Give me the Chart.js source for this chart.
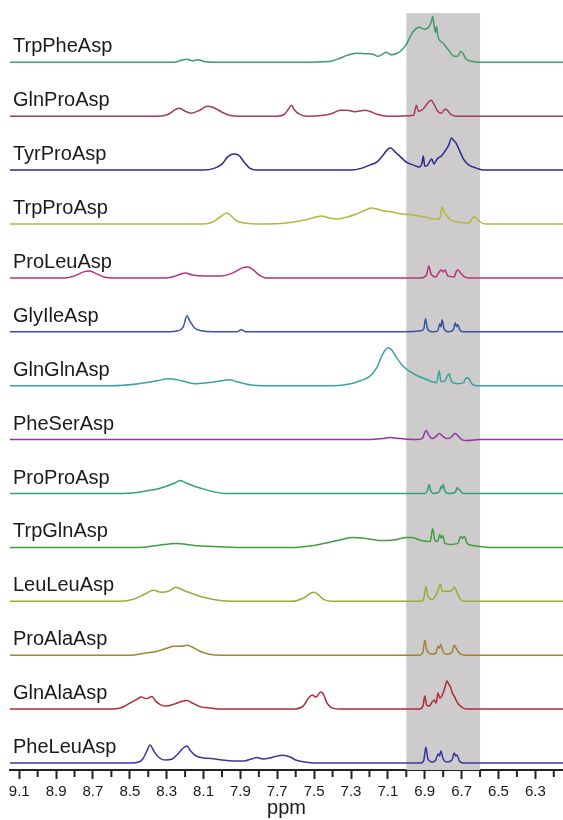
<!DOCTYPE html>
<html>
<head>
<meta charset="utf-8">
<script src="https://cdn.jsdelivr.net/npm/chart.js@4.4.1/dist/chart.umd.min.js"></script>
<style>
  html, body { margin: 0; padding: 0; background: #ffffff; }
  #wrap { width: 563px; height: 820px; }
</style>
</head>
<body>
<div id="wrap"><canvas id="c" width="563" height="820"></canvas></div>
<script>
// ---- Data (ppm, intensity) ----
const seriesNames = ['TrpPheAsp','GlnProAsp','TyrProAsp','TrpProAsp','ProLeuAsp','GlyIleAsp','GlnGlnAsp',
                     'PheSerAsp','ProProAsp','TrpGlnAsp','LeuLeuAsp','ProAlaAsp','GlnAlaAsp','PheLeuAsp'];

const TrpPheAsp = [[9.15,0],[8.6,0],[8.26,0],[8.22,2],[8.19,3],[8.16,1.5],[8.13,2.5],[8.09,0.5],[8.0,0],[7.6,0],[7.45,0.5],[7.41,1],[7.36,4],[7.32,7],[7.27,9],[7.22,8.5],[7.18,8],[7.154,6],[7.13,8],[7.11,10],[7.08,7.5],[7.05,9],[7.035,10.5],[7.0,18],[6.965,30],[6.93,35],[6.9,33],[6.88,35],[6.865,40],[6.857,46],[6.85,38],[6.842,30],[6.836,36],[6.83,27],[6.8,19],[6.77,12],[6.74,6],[6.72,6],[6.705,11],[6.69,8],[6.675,3],[6.64,1],[6.6,0],[6.15,0]];
const GlnProAsp = [[9.15,0],[8.35,0],[8.29,2],[8.25,7],[8.23,8],[8.2,5],[8.17,3],[8.12,6],[8.08,10],[8.05,9],[8.0,4],[7.96,1],[7.9,0],[7.7,0],[7.66,2],[7.64,7],[7.622,11],[7.61,7],[7.58,2],[7.54,0],[7.45,1],[7.4,3],[7.36,6],[7.32,6],[7.28,4.5],[7.225,6],[7.2,5],[7.16,2],[7.1,0],[6.96,1],[6.945,11],[6.935,5],[6.91,7],[6.88,14],[6.865,16],[6.85,12],[6.83,5],[6.81,3],[6.79,7],[6.778,6],[6.76,2],[6.73,0],[6.15,0]];
const TyrProAsp = [[9.15,0],[8.1,0],[8.04,2],[8.0,6],[7.97,13],[7.94,16],[7.91,15],[7.88,8],[7.85,2],[7.8,0],[7.3,0],[7.24,2],[7.2,5],[7.16,8],[7.13,14],[7.1,21],[7.085,22],[7.06,18],[7.03,13],[7.0,8],[6.96,5],[6.93,3],[6.915,7],[6.908,14],[6.9,4],[6.89,4],[6.875,8],[6.862,11],[6.85,6],[6.84,9],[6.828,12],[6.81,14],[6.79,19],[6.77,25],[6.755,32],[6.745,30],[6.73,27],[6.71,19],[6.69,11],[6.66,5],[6.62,2],[6.58,0],[6.15,0]];
const TrpProAsp = [[9.15,0],[8.1,0],[8.05,2],[8.01,7],[7.975,11],[7.95,8],[7.92,3],[7.88,1],[7.8,0],[7.65,1],[7.55,4],[7.49,7],[7.46,8],[7.42,6],[7.37,5],[7.32,7],[7.27,10],[7.22,14],[7.19,16],[7.16,15],[7.12,13],[7.08,12],[7.02,10],[6.96,9],[6.9,7],[6.85,5],[6.82,5],[6.806,17],[6.795,12],[6.78,8],[6.76,4],[6.72,2],[6.66,1],[6.645,5],[6.632,7],[6.62,6],[6.6,2],[6.57,0],[6.15,0]];
const ProLeuAsp = [[9.15,0],[8.85,0],[8.8,2],[8.75,6],[8.72,7],[8.69,5],[8.64,1],[8.58,0],[8.3,0],[8.25,2],[8.2,5],[8.16,3],[8.1,2],[8.0,2],[7.94,5],[7.89,10],[7.86,11],[7.83,8],[7.8,3],[7.76,0],[6.92,0],[6.89,3],[6.878,12],[6.866,4],[6.84,1],[6.822,6],[6.81,8],[6.8,6],[6.79,8],[6.775,2],[6.74,1],[6.728,7],[6.718,8],[6.71,6],[6.7,4],[6.685,1],[6.66,0],[6.15,0]];
const GlyIleAsp = [[9.15,0],[8.3,0],[8.24,1],[8.21,5],[8.19,16],[8.175,11],[8.15,4],[8.11,1],[8.05,0],[7.92,0],[7.895,2],[7.87,0],[7.0,0],[6.92,1],[6.905,3],[6.896,13],[6.885,3],[6.86,0],[6.83,1],[6.818,8],[6.812,5],[6.806,12],[6.795,3],[6.77,0],[6.745,2],[6.734,9],[6.728,5],[6.72,7],[6.71,2],[6.69,0],[6.15,0]];
const GlnGlnAsp = [[9.15,0],[8.6,0],[8.45,2],[8.35,5],[8.29,7],[8.22,5],[8.15,2],[8.08,3],[8.0,5],[7.96,6],[7.92,4],[7.85,1],[7.75,0],[7.4,0],[7.3,2],[7.25,5],[7.2,9],[7.16,18],[7.13,31],[7.1,38],[7.08,36],[7.06,30],[7.02,20],[6.98,14],[6.94,10],[6.9,7],[6.86,4],[6.835,3],[6.822,15],[6.812,4],[6.79,5],[6.777,10],[6.768,12],[6.755,4],[6.72,2],[6.69,3],[6.675,8],[6.66,7],[6.645,2],[6.62,0],[6.15,0]];
const PheSerAsp = [[9.15,0],[7.2,0],[7.13,1],[7.09,2],[7.03,1],[6.95,0],[6.915,1],[6.892,9],[6.88,5],[6.86,1],[6.84,3],[6.822,6],[6.8,3],[6.78,1],[6.76,2],[6.735,6],[6.72,4],[6.7,0],[6.67,-1],[6.6,0],[6.15,0]];
const ProProAsp = [[9.15,0],[8.55,0],[8.46,1],[8.4,3],[8.34,5],[8.29,8],[8.25,11],[8.225,13],[8.2,11],[8.16,8],[8.11,5],[8.05,2],[7.98,0],[6.9,0],[6.885,3],[6.876,9],[6.868,3],[6.85,0],[6.82,2],[6.813,7],[6.807,5],[6.8,9],[6.79,2],[6.77,0],[6.735,1],[6.724,6],[6.718,4],[6.712,4],[6.7,1],[6.68,0],[6.15,0]];
const TrpGlnAsp = [[9.15,0],[8.45,0],[8.35,2],[8.25,4],[8.15,2],[8.05,1],[7.9,0],[7.6,0],[7.5,2],[7.42,5],[7.35,8],[7.29,10],[7.22,9],[7.15,7],[7.1,7],[7.05,8],[7.0,10],[6.97,10],[6.92,7],[6.87,6],[6.857,19],[6.845,7],[6.83,6],[6.818,13],[6.81,9],[6.803,12],[6.79,4],[6.76,3],[6.72,4],[6.705,11],[6.695,9],[6.685,11],[6.67,4],[6.64,2],[6.6,1],[6.55,0],[6.15,0]];
const LeuLeuAsp = [[9.15,0],[8.55,0],[8.48,2],[8.42,7],[8.37,11],[8.33,9],[8.29,10],[8.25,14],[8.21,11],[8.15,7],[8.1,4],[8.02,1],[7.95,0],[7.62,0],[7.56,3],[7.52,8],[7.5,9],[7.48,7],[7.45,2],[7.4,0],[6.92,0],[6.905,3],[6.894,15],[6.883,5],[6.86,2],[6.84,6],[6.828,11],[6.815,17],[6.805,10],[6.785,10],[6.765,10],[6.748,12],[6.737,14],[6.725,9],[6.71,3],[6.69,0],[6.15,0]];
const ProAlaAsp = [[9.15,0],[8.5,0],[8.42,2],[8.35,4],[8.3,7],[8.26,9],[8.22,9],[8.19,10],[8.16,8],[8.12,4],[8.07,1],[8.0,0],[6.93,0],[6.91,3],[6.9,15],[6.888,5],[6.86,1],[6.84,2],[6.828,9],[6.82,7],[6.813,11],[6.8,3],[6.78,1],[6.752,3],[6.74,10],[6.73,7],[6.72,4],[6.705,1],[6.68,0],[6.15,0]];
const GlnAlaAsp = [[9.15,0],[8.62,0],[8.55,1],[8.5,6],[8.46,10],[8.44,12],[8.41,10.5],[8.38,12.5],[8.36,8],[8.33,4],[8.3,3],[8.26,5],[8.22,7.5],[8.19,8.5],[8.16,6],[8.12,2.5],[8.06,1],[8.0,0],[7.62,0],[7.56,3],[7.53,11],[7.51,14],[7.49,12],[7.465,17],[7.45,15],[7.43,6],[7.4,1],[7.36,0],[6.93,0],[6.91,3],[6.9,13],[6.89,4],[6.875,3],[6.86,7],[6.848,9],[6.838,6],[6.828,16],[6.818,11],[6.805,14],[6.79,22],[6.78,28],[6.77,25],[6.76,22],[6.75,16],[6.74,13],[6.725,7],[6.7,2],[6.67,0],[6.15,0]];
const PheLeuAsp = [[9.15,0],[8.5,0],[8.45,1],[8.43,4],[8.41,11],[8.39,18],[8.37,12],[8.345,6],[8.31,3],[8.27,4],[8.24,9],[8.21,15],[8.19,17],[8.17,12],[8.14,7],[8.1,5],[8.06,4.5],[8.0,3],[7.94,2],[7.88,2],[7.84,4],[7.81,5.5],[7.78,4],[7.74,5],[7.7,7],[7.67,7.7],[7.63,6],[7.6,3],[7.55,1],[7.5,0],[6.92,0],[6.905,3],[6.894,16],[6.883,4],[6.86,1],[6.84,3],[6.828,9],[6.82,7],[6.813,12],[6.8,4],[6.78,1],[6.752,3],[6.74,10],[6.732,7],[6.725,8],[6.712,2],[6.69,0],[6.15,0]];

const spectra = [TrpPheAsp, GlnProAsp, TyrProAsp, TrpProAsp, ProLeuAsp, GlyIleAsp, GlnGlnAsp,
                 PheSerAsp, ProProAsp, TrpGlnAsp, LeuLeuAsp, ProAlaAsp, GlnAlaAsp, PheLeuAsp];

const majorTickLabels = ['9.1','8.9','8.7','8.5','8.3','8.1','7.9','7.7','7.5','7.3','7.1','6.9','6.7','6.5','6.3'];
const minorTickValues = [9.0, 8.8, 8.6, 8.4, 8.2, 8.0, 7.8, 7.6, 7.4, 7.2, 7.0, 6.8, 6.6, 6.4, 6.2];
const highlightRange = [7.0, 6.6];
const xRange = [6.15, 9.15];

// ---- Styles / layout ----
const colors = ['#3f9c6c','#a8395e','#2b2b8e','#b6b63c','#b8327a','#3555a3','#38a3a0',
                '#9433a3','#31a07c','#3e9e3e','#9cab34','#a2842f','#b02a38','#38389c'];
const step = 53.9;
const bottomBase = 7;

const datasets = spectra.map((arr, i) => {
  const base = bottomBase + (spectra.length - 1 - i) * step;
  return {
    label: seriesNames[i],
    data: arr.map(p => ({ x: p[0], y: base + p[1] })),
    baseOffset: base,
    borderColor: colors[i],
    borderWidth: 1.5,
    pointRadius: 0,
    fill: false,
    cubicInterpolationMode: 'monotone'
  };
});

const bandPlugin = {
  id: 'band',
  beforeDatasetsDraw(chart) {
    const { ctx, chartArea, scales } = chart;
    const x1 = scales.x.getPixelForValue(highlightRange[0]);
    const x2 = scales.x.getPixelForValue(highlightRange[1]);
    ctx.save();
    ctx.fillStyle = '#cdcbcc';
    ctx.fillRect(Math.min(x1, x2), chartArea.top, Math.abs(x2 - x1), chartArea.bottom - chartArea.top);
    ctx.restore();
  }
};

const labelPlugin = {
  id: 'labels',
  afterDatasetsDraw(chart) {
    const { ctx, scales } = chart;
    ctx.save();
    ctx.fillStyle = '#1a1a1a';
    ctx.font = '20px "Liberation Sans", Arial, sans-serif';
    ctx.textBaseline = 'alphabetic';
    ctx.textAlign = 'left';
    chart.data.datasets.forEach(ds => {
      const y = scales.y.getPixelForValue(ds.baseOffset) - 10;
      ctx.fillText(ds.label, 13, y);
    });
    ctx.restore();
  }
};

const minorTickPlugin = {
  id: 'minorTicks',
  afterDraw(chart) {
    const { ctx, chartArea, scales } = chart;
    ctx.save();
    ctx.strokeStyle = '#222222';
    ctx.lineWidth = 2;
    minorTickValues.forEach(v => {
      const x = scales.x.getPixelForValue(v);
      ctx.beginPath();
      ctx.moveTo(x, chartArea.bottom);
      ctx.lineTo(x, chartArea.bottom + 7);
      ctx.stroke();
    });
    ctx.restore();
  }
};

new Chart(document.getElementById('c'), {
  type: 'line',
  data: { datasets },
  plugins: [bandPlugin, labelPlugin, minorTickPlugin],
  options: {
    responsive: false,
    animation: false,
    parsing: true,
    layout: { padding: { top: 13, left: 10, right: 0, bottom: 0 } },
    plugins: { legend: { display: false }, tooltip: { enabled: false } },
    scales: {
      x: {
        type: 'linear',
        reverse: true,
        min: xRange[0],
        max: xRange[1],
        afterBuildTicks(scale) {
          scale.ticks = majorTickLabels.map(t => ({ value: parseFloat(t) }));
        },
        afterFit(scale) { scale.height = 50; },
        ticks: {
          autoSkip: false,
          maxRotation: 0,
          padding: 4,
          color: '#1a1a1a',
          font: { family: '"Liberation Sans", Arial, sans-serif', size: 15 },
          callback: (v) => Number(v).toFixed(1)
        },
        grid: {
          display: true,
          drawOnChartArea: false,
          drawTicks: true,
          tickLength: 9,
          tickWidth: 2,
          tickColor: '#222222'
        },
        border: { display: true, color: '#222222', width: 2 },
        title: {
          display: true,
          text: 'ppm',
          color: '#1a1a1a',
          font: { family: '"Liberation Sans", Arial, sans-serif', size: 20 },
          padding: { top: 0, bottom: 0 }
        }
      },
      y: {
        type: 'linear',
        display: false,
        min: 0,
        max: 757
      }
    }
  }
});
</script>
</body>
</html>
